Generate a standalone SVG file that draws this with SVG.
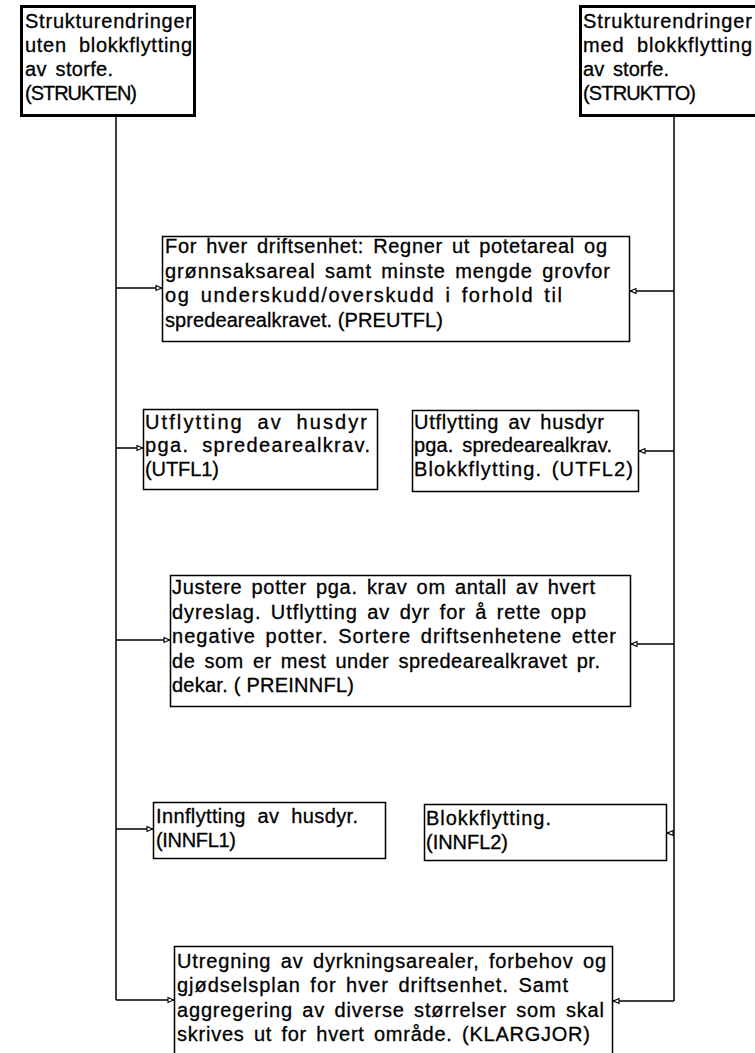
<svg xmlns="http://www.w3.org/2000/svg" width="755" height="1053" viewBox="0 0 755 1053">
  <style>
    .t { font-family: "Liberation Sans", Arial, Helvetica, sans-serif; font-size: 20px; fill: #000; stroke: #000; stroke-width: 0.3; }
    .w { word-spacing: 6px; }
    .w2 { word-spacing: 3px; }
    .box { fill: #fff; stroke: #000; stroke-width: 1.5; }
    .top { fill: #fff; stroke: #000; stroke-width: 3; }
    .wire { fill: none; stroke: #000; stroke-width: 1.5; }
  </style>
  <defs>
    <marker id="arr" viewBox="0 0 8 8" refX="7.5" refY="4" markerWidth="8" markerHeight="8" markerUnits="userSpaceOnUse" orient="auto">
      <path d="M1.5,1.5 L7,4 L1.5,6.5 Z" fill="#fff" stroke="#000" stroke-width="1.1"/>
    </marker>
  </defs>
  <rect width="755" height="1053" fill="#fff"/>

  <!-- connectors: left trunk feeds the left-hand boxes, right trunk the right-hand ones -->
  <g id="connectors">
    <path class="wire" d="M116,117 V1000"/>
    <path class="wire" d="M116,288 H162" marker-end="url(#arr)"/>
    <path class="wire" d="M116,448 H143" marker-end="url(#arr)"/>
    <path class="wire" d="M116,640 H170" marker-end="url(#arr)"/>
    <path class="wire" d="M116,829 H153" marker-end="url(#arr)"/>
    <path class="wire" d="M116,1000 H174" marker-end="url(#arr)"/>

    <path class="wire" d="M674,117 V1001"/>
    <path class="wire" d="M674,291 H630" marker-end="url(#arr)"/>
    <path class="wire" d="M674,451 H639" marker-end="url(#arr)"/>
    <path class="wire" d="M674,644 H631" marker-end="url(#arr)"/>
    <path class="wire" d="M674,833 H667" marker-end="url(#arr)"/>
    <path class="wire" d="M674,1001 H613" marker-end="url(#arr)"/>
  </g>

  <g id="strukten">
    <rect class="top" x="21.5" y="6.5" width="173" height="109"/>
    <text class="t" x="25" y="28" textLength="167" lengthAdjust="spacing">Strukturendringer</text>
    <text class="t w" x="25" y="52" textLength="167" lengthAdjust="spacing">uten blokkflytting</text>
    <text class="t w2" x="25" y="76" textLength="88" lengthAdjust="spacing">av storfe.</text>
    <text class="t" x="25" y="100" textLength="112" lengthAdjust="spacing">(STRUKTEN)</text>
  </g>

  <g id="struktto">
    <rect class="top" x="580.5" y="6.5" width="190" height="109"/>
    <text class="t" x="583" y="28" textLength="169" lengthAdjust="spacing">Strukturendringer</text>
    <text class="t w" x="583" y="52" textLength="169" lengthAdjust="spacing">med blokkflytting</text>
    <text class="t w2" x="583" y="76" textLength="86" lengthAdjust="spacing">av storfe.</text>
    <text class="t" x="583" y="100" textLength="113" lengthAdjust="spacing">(STRUKTTO)</text>
  </g>

  <g id="preutfl">
    <rect class="box" x="162.5" y="236.5" width="467" height="105"/>
    <text class="t w2" x="165" y="253" textLength="442" lengthAdjust="spacing">For hver driftsenhet: Regner ut potetareal og</text>
    <text class="t w2" x="165" y="278" textLength="445" lengthAdjust="spacing">grønnsaksareal samt minste mengde grovfor</text>
    <text class="t w2" x="165" y="302" textLength="397" lengthAdjust="spacing">og underskudd/overskudd i forhold til</text>
    <text class="t" x="165" y="327" textLength="278" lengthAdjust="spacing">spredearealkravet. (PREUTFL)</text>
  </g>

  <g id="utfl1">
    <rect class="box" x="143.5" y="409.5" width="234" height="80"/>
    <text class="t w" x="145" y="429" textLength="222" lengthAdjust="spacing">Utflytting av husdyr</text>
    <text class="t w" x="145" y="452" textLength="225" lengthAdjust="spacing">pga. spredearealkrav.</text>
    <text class="t" x="145" y="476" textLength="74" lengthAdjust="spacing">(UTFL1)</text>
  </g>

  <g id="utfl2">
    <rect class="box" x="412.5" y="410.5" width="226" height="81"/>
    <text class="t w2" x="414" y="429" textLength="190" lengthAdjust="spacing">Utflytting av husdyr</text>
    <text class="t w2" x="414" y="452" textLength="198" lengthAdjust="spacing">pga. spredearealkrav.</text>
    <text class="t w2" x="414" y="476" textLength="219" lengthAdjust="spacing">Blokkflytting. (UTFL2)</text>
  </g>

  <g id="preinnfl">
    <rect class="box" x="170.5" y="575.5" width="460" height="131"/>
    <text class="t w2" x="172" y="594" textLength="423" lengthAdjust="spacing">Justere potter pga. krav om antall av hvert</text>
    <text class="t w2" x="172" y="618.5" textLength="414" lengthAdjust="spacing">dyreslag. Utflytting av dyr for å rette opp</text>
    <text class="t w2" x="172" y="643" textLength="444" lengthAdjust="spacing">negative potter. Sortere driftsenhetene etter</text>
    <text class="t w2" x="172" y="667.5" textLength="428" lengthAdjust="spacing">de som er mest under spredearealkravet pr.</text>
    <text class="t" x="172" y="692" textLength="182" lengthAdjust="spacing">dekar. ( PREINNFL)</text>
  </g>

  <g id="innfl1">
    <rect class="box" x="153.5" y="802.5" width="232" height="56"/>
    <text class="t w" x="156" y="823" textLength="202" lengthAdjust="spacing">Innflytting av husdyr.</text>
    <text class="t" x="156" y="847" textLength="80" lengthAdjust="spacing">(INNFL1)</text>
  </g>

  <g id="innfl2">
    <rect class="box" x="424.5" y="804.5" width="242" height="56"/>
    <text class="t" x="426" y="825" textLength="125" lengthAdjust="spacing">Blokkflytting.</text>
    <text class="t" x="426" y="849" textLength="82" lengthAdjust="spacing">(INNFL2)</text>
  </g>

  <g id="klargjor">
    <rect class="box" x="174.5" y="946.5" width="438" height="120"/>
    <text class="t w2" x="177" y="968" textLength="429" lengthAdjust="spacing">Utregning av dyrkningsarealer, forbehov og</text>
    <text class="t w2" x="177" y="992" textLength="391" lengthAdjust="spacing">gjødselsplan for hver driftsenhet. Samt</text>
    <text class="t w2" x="177" y="1017" textLength="427" lengthAdjust="spacing">aggregering av diverse størrelser som skal</text>
    <text class="t w2" x="177" y="1041" textLength="413" lengthAdjust="spacing">skrives ut for hvert område. (KLARGJOR)</text>
  </g>
</svg>
